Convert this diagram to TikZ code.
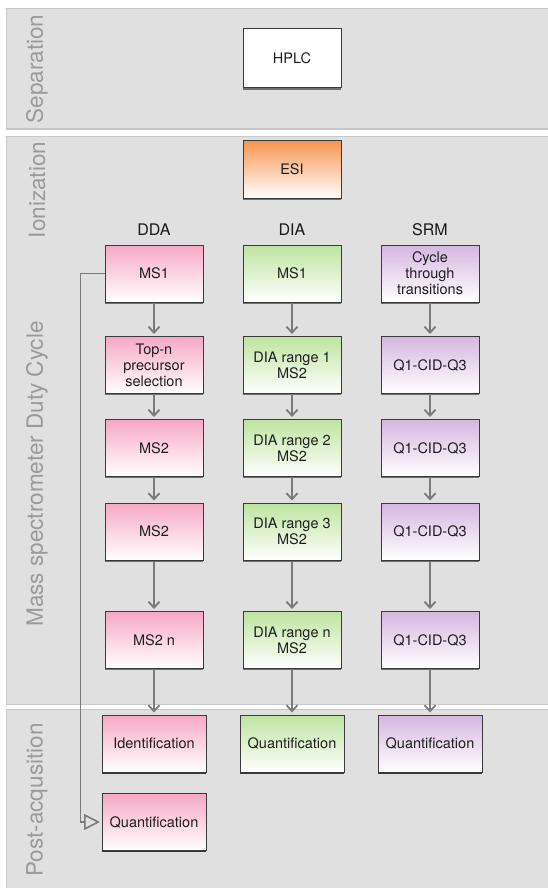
\documentclass[tikz,border=0pt]{standalone}
\usepackage{fontspec}
\setmainfont{TeX Gyre Heros}
\usetikzlibrary{arrows.meta,shadows}
\definecolor{panelfill}{HTML}{E0E0E0}
\definecolor{paneldraw}{HTML}{C8C8C8}
\definecolor{sidegray}{HTML}{9A9A9A}
\definecolor{arrowgray}{HTML}{7A7A7A}
\definecolor{boxborder}{HTML}{3A3A3A}
\definecolor{pinktop}{HTML}{F6A8C4}
\definecolor{greentop}{HTML}{BEE4A0}
\definecolor{purpletop}{HTML}{D5B6E0}
\definecolor{orangetop}{HTML}{F6954F}
\tikzset{
  panel/.style={fill=panelfill, draw=paneldraw, line width=1pt},
  sidelabel/.style={rotate=90, text=sidegray, font=\fontsize{22.5}{27}\selectfont, inner sep=0pt},
  header/.style={font=\fontsize{16}{19}\selectfont, text=black!90},
  box/.style={draw=boxborder, line width=1pt, minimum width=98pt, minimum height=57pt,
    inner sep=0pt, align=center, text=black!88, font=\fontsize{14.5}{16}\selectfont,
    drop shadow={shadow xshift=0pt, shadow yshift=-1.8pt, opacity=0.5, fill=black}},
  widebox/.style={box, minimum width=104pt},
  pinkbox/.style={box, top color=pinktop, bottom color=white},
  greenbox/.style={box, top color=greentop, bottom color=white},
  purplebox/.style={box, top color=purpletop, bottom color=white},
  flow/.style={draw=arrowgray, line width=1.8pt, -{Straight Barb[length=6pt,width=11pt]}, shorten >=2pt},
  loopline/.style={draw=arrowgray, line width=1.8pt, -{Triangle[open,length=16pt,width=16pt,line width=1.6pt]}, shorten >=1.5pt}
}
\begin{document}
\begin{tikzpicture}[x=1pt,y=-1pt]
\useasboundingbox (0,0) rectangle (547,888);
% panels
\path[panel] (6,9) rectangle (549,129);
\path[panel] (6,136) rectangle (549,704);
\path[panel] (6,709) rectangle (549,890);
% side labels
\node[sidelabel] (lsep) at (37,69) {Separation};
\node[sidelabel] (lion) at (37,190) {Ionization};
\node[sidelabel] (lms) at (37,474) {Mass spectrometer Duty Cycle};
\node[sidelabel] (lpost) at (37,800) {Post-acqusition};
% top boxes
\node[box, fill=white, minimum height=59pt] (hplc) at (292,58.5) {HPLC};
\node[box, minimum height=58pt, top color=orangetop, bottom color=white] (esi) at (292,169.5) {ESI};
% headers
\node[header] (hdda) at (154,230) {DDA};
\node[header] (hdia) at (292,230) {DIA};
\node[header] (hsrm) at (430,230) {SRM};
% DDA column
\node[pinkbox] (d1) at (154,273.5) {MS1};
\node[pinkbox] (d2) at (154,365) {Top-n\\precursor\\selection};
\node[pinkbox] (d3) at (154,448) {MS2};
\node[pinkbox] (d4) at (154,531.5) {MS2};
\node[pinkbox] (d5) at (154,640) {MS2 n};
\node[pinkbox, widebox] (did) at (154,743.5) {Identification};
\node[pinkbox, widebox] (dq) at (154,822) {Quantification};
% DIA column
\node[greenbox] (i1) at (292,273.5) {MS1};
\node[greenbox] (i2) at (292,365) {DIA range 1\\MS2};
\node[greenbox] (i3) at (292,448) {DIA range 2\\MS2};
\node[greenbox] (i4) at (292,531.5) {DIA range 3\\MS2};
\node[greenbox] (i5) at (292,640) {DIA range n\\MS2};
\node[greenbox, widebox] (iq) at (292,743.5) {Quantification};
% SRM column
\node[purplebox] (s1) at (430,273.5) {Cycle\\through\\transitions};
\node[purplebox] (s2) at (430,365) {Q1-CID-Q3};
\node[purplebox] (s3) at (430,448) {Q1-CID-Q3};
\node[purplebox] (s4) at (430,531.5) {Q1-CID-Q3};
\node[purplebox] (s5) at (430,640) {Q1-CID-Q3};
\node[purplebox, widebox] (sq) at (430,743.5) {Quantification};
% arrows
\foreach \c/\q in {d/did,i/iq,s/sq}{
  \draw[flow] (\c1) -- (\c2);
  \draw[flow] (\c2) -- (\c3);
  \draw[flow] (\c3) -- (\c4);
  \draw[flow] (\c4) -- (\c5);
  \draw[flow] (\c5) -- (\q);
}
\draw[loopline] (d1.west) -- ++(-24,0) |- (dq.west);
\end{tikzpicture}
\end{document}
